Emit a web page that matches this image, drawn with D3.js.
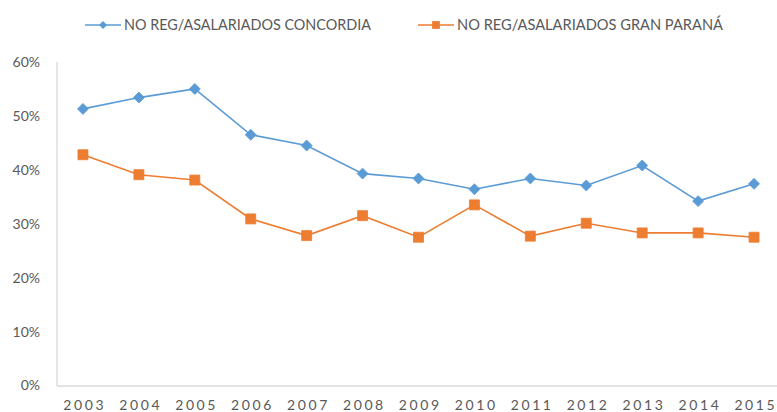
<!DOCTYPE html>
<html>
<head>
<meta charset="utf-8">
<script src="https://cdn.jsdelivr.net/npm/d3@7"></script>
<style>
  body { margin: 0; background: #fff; }
  svg text { font-family: Lato, "Open Sans", sans-serif; fill: #595959; }
</style>
</head>
<body>
<svg id="chart"></svg>
<script>
// data
const years = ["2003", "2004", "2005", "2006", "2007", "2008", "2009", "2010", "2011", "2012", "2013", "2014", "2015"];
const concordia = [0.513, 0.534, 0.550, 0.465, 0.445, 0.393, 0.384, 0.364, 0.384, 0.371, 0.408, 0.342, 0.374];
const granParana = [0.428, 0.391, 0.381, 0.309, 0.278, 0.315, 0.275, 0.335, 0.277, 0.301, 0.283, 0.283, 0.275];
const seriesNames = ["NO REG/ASALARIADOS CONCORDIA", "NO REG/ASALARIADOS GRAN PARANÁ"];
const yTicks = [0, 0.1, 0.2, 0.3, 0.4, 0.5, 0.6];

const width = 777;
const height = 412;
const margin = { left: 57, top: 62, bottom: 386 };

const blue = "#5b9bd5";
const orange = "#ed7d31";
const axisColor = "#d9d9d9";

const svg = d3.select("#chart")
  .attr("width", width)
  .attr("height", height);

const xScale = d3.scalePoint().domain(years).range([55, 782]).padding(0.5);
const yScale = d3.scaleLinear().domain([0, 0.6]).range([385.5, margin.top]);

// axes
const axisX = svg.append("g")
  .attr("transform", "translate(0," + margin.bottom + ")")
  .call(d3.axisBottom(xScale).tickSize(0).tickPadding(14));
axisX.select(".domain").remove();
axisX.selectAll("text")
  .style("font-size", "14px")
  .style("letter-spacing", "2.6px")
  .attr("dx", "1.3px");

const axisY = svg.append("g")
  .attr("transform", "translate(" + margin.left + ",0)")
  .call(d3.axisLeft(yScale).tickValues(yTicks).tickFormat(d3.format(".0%")).tickSize(0).tickPadding(17));
axisY.select(".domain").remove();
axisY.selectAll("text").style("font-size", "14px");

svg.append("line")
  .attr("x1", margin.left).attr("x2", margin.left)
  .attr("y1", margin.top).attr("y2", margin.bottom)
  .attr("stroke", axisColor).attr("stroke-width", 1.3);
svg.append("line")
  .attr("x1", margin.left).attr("x2", width)
  .attr("y1", margin.bottom).attr("y2", margin.bottom)
  .attr("stroke", axisColor).attr("stroke-width", 1.3);

const line = d3.line()
  .x((d, i) => xScale(years[i]))
  .y(d => yScale(d));

const diamond = d3.symbol().type(d3.symbolSquare).size(60);
const square = d3.symbol().type(d3.symbolSquare).size(100);

function drawSeries(values, color, symbolPath, rotate) {
  svg.append("path")
    .datum(values)
    .attr("fill", "none")
    .attr("stroke", color)
    .attr("stroke-width", 1.6)
    .attr("d", line);
  svg.selectAll(null)
    .data(values)
    .enter()
    .append("path")
    .attr("d", symbolPath)
    .attr("transform", (d, i) => "translate(" + xScale(years[i]) + "," + yScale(d) + ") rotate(" + rotate + ")")
    .attr("fill", color)
    .attr("stroke", color)
    .attr("stroke-width", 0.8);
}

drawSeries(concordia, blue, diamond, 45);
drawSeries(granParana, orange, square, 0);

// legend
const legendItems = [
  { name: seriesNames[0], color: blue, rotate: 45, x: 85, textWidth: 247 },
  { name: seriesNames[1], color: orange, rotate: 0, x: 418, textWidth: 266 }
];
const legend = svg.selectAll(".legend")
  .data(legendItems)
  .enter()
  .append("g")
  .attr("class", "legend")
  .attr("transform", d => "translate(" + d.x + ",25)");
legend.append("line")
  .attr("x1", 0).attr("x2", 36)
  .attr("stroke", d => d.color)
  .attr("stroke-width", 1.6);
legend.append("path")
  .attr("d", d => d3.symbol().type(d3.symbolSquare).size(d.rotate ? 32 : 60)())
  .attr("transform", d => "translate(18,0) rotate(" + d.rotate + ")")
  .attr("fill", d => d.color);
legend.append("text")
  .attr("x", 39)
  .attr("dy", "0.33em")
  .attr("textLength", d => d.textWidth)
  .attr("lengthAdjust", "spacingAndGlyphs")
  .style("font-size", "15px")
  .text(d => d.name);
</script>
</body>
</html>
